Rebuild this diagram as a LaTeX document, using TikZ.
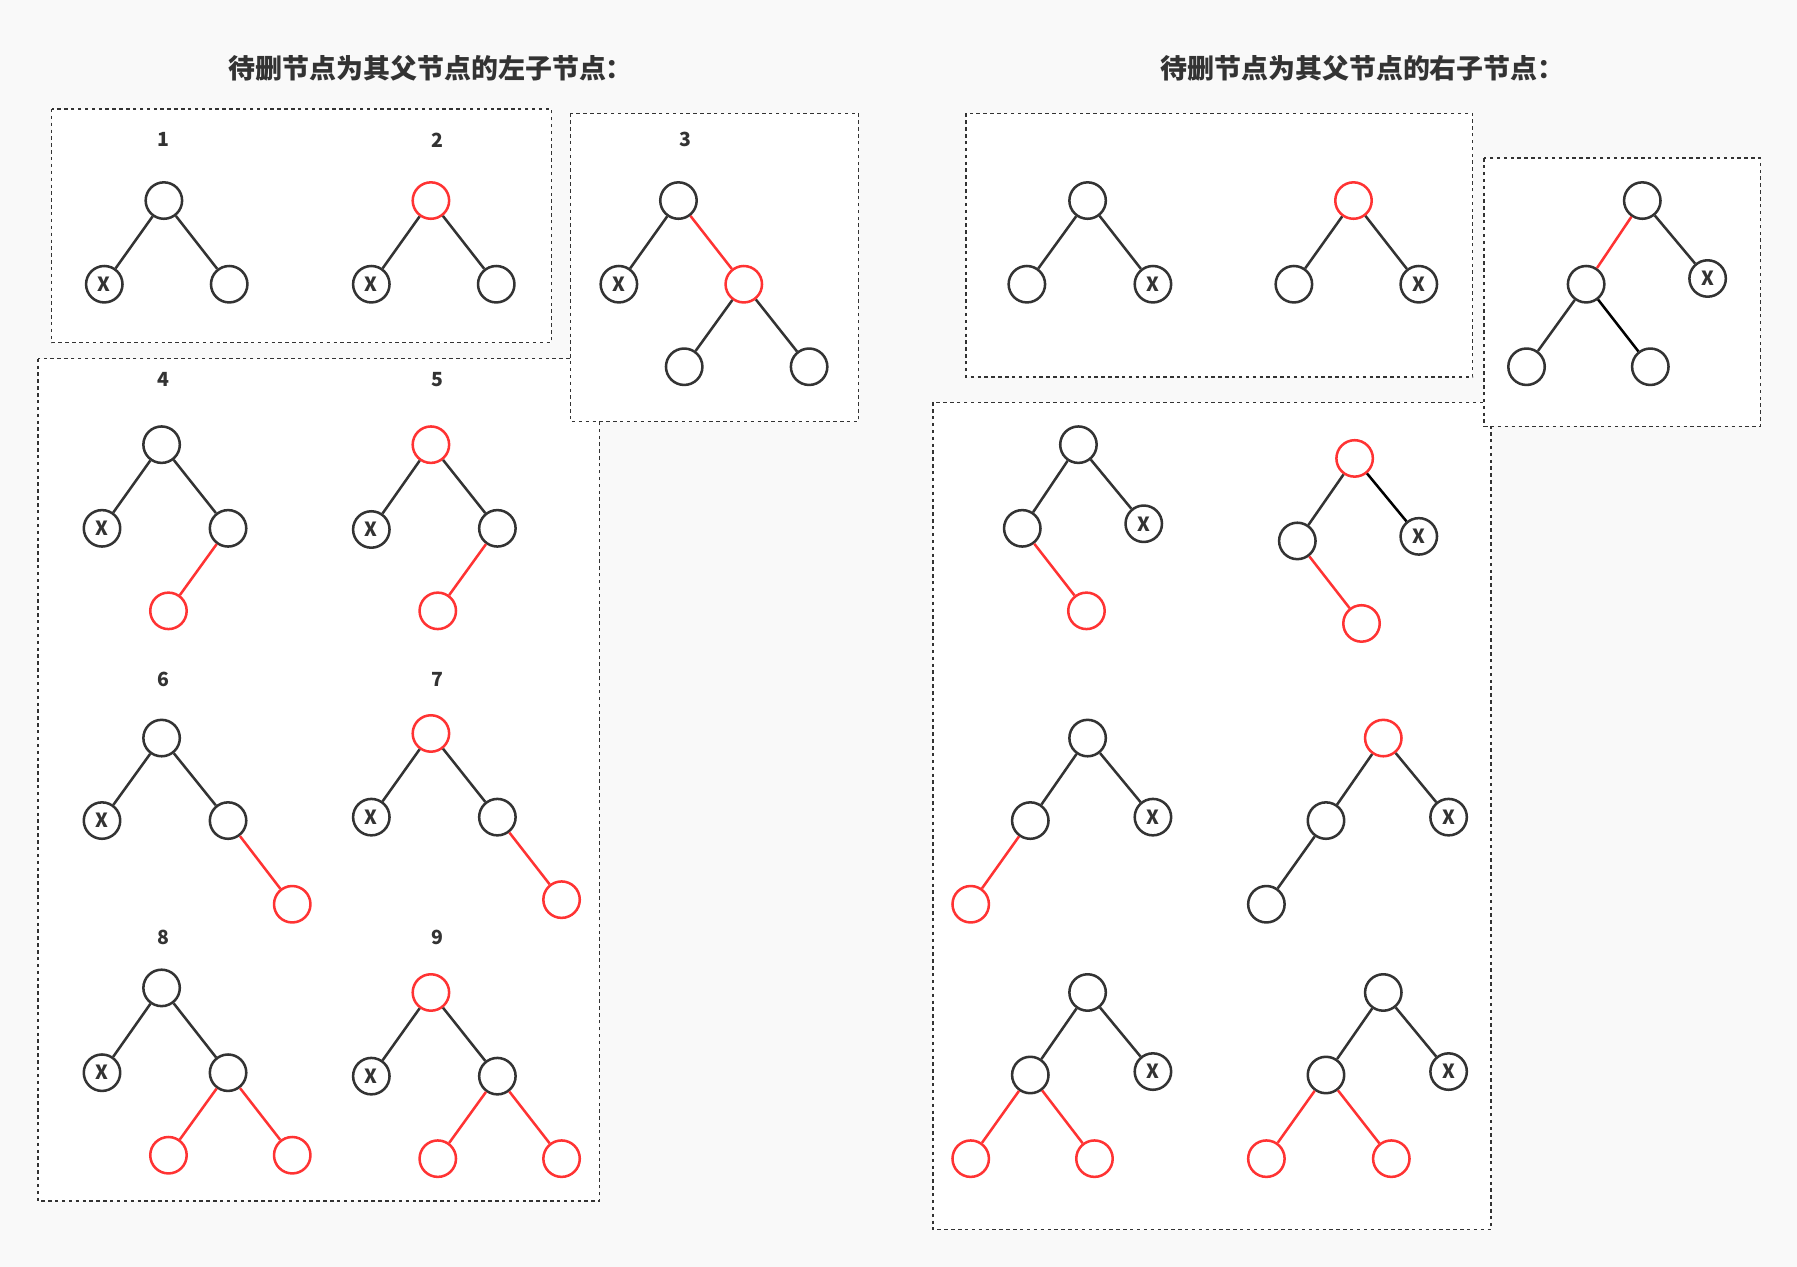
\documentclass[tikz,border=0pt]{standalone}
\usepackage{fontspec}
\usepackage{xcolor}
\usepackage{tikz}
\usetikzlibrary{positioning}
\newfontfamily\cjk{Noto Sans CJK SC}
\definecolor{nodegray}{HTML}{333333}
\definecolor{nodered}{HTML}{FF3333}
\definecolor{pagebg}{HTML}{F9F9F9}

\begin{document}
\begin{tikzpicture}[x=1pt, y=-1pt,
    nd/.style={circle, draw=nodegray, line width=2.2pt, minimum size=31.8pt, inner sep=0pt, fill=white},
    rnd/.style={nd, draw=nodered},
    xnd/.style={nd, font=\cjk\bfseries\fontsize{17}{17}\selectfont, text=nodegray},
    edge/.style={draw=nodegray, line width=2.2pt},
    redge/.style={draw=nodered, line width=2.2pt},
    kedge/.style={draw=black, line width=2.2pt},
    box/.style={draw=nodegray, fill=white, line width=1.3pt, dash pattern=on 3pt off 3pt},
    num/.style={font=\cjk\bfseries\fontsize{17}{17}\selectfont, text=nodegray},
    title/.style={font=\cjk\bfseries\fontsize{23.5}{23.5}\selectfont, text=nodegray}]

    % Background
    \fill[pagebg] (0,0) rectangle (1568,1105.5);
    \useasboundingbox (0,0) rectangle (1568,1105.5);

    % Titles
    \node[title] (ltitle) at (376,60) {待删节点为其父节点的左子节点：};
    \node[title] (rtitle) at (1189,60) {待删节点为其父节点的右子节点：};

    % Dashed boxes
    \draw[box] (33,313) rectangle (523,1048);
    \draw[box] (45,95) rectangle (481,299);
    \draw[box] (498,99) rectangle (749,368);
    \draw[box] (814,351) rectangle (1301,1073);
    \draw[box] (843,99) rectangle (1285,329);
    \draw[box] (1295,138) rectangle (1536,372);

    % Case numbers
    \node[num] (n1) at (143,122) {1};
    \node[num] (n2) at (382,122) {2};
    \node[num] (n3) at (598,122) {3};
    \node[num] (n4) at (143,331) {4};
    \node[num] (n5) at (382,331) {5};
    \node[num] (n6) at (143,593) {6};
    \node[num] (n7) at (382,593) {7};
    \node[num] (n8) at (143,818) {8};
    \node[num] (n9) at (382,818) {9};

    % Left 1
    \node[nd] (l1r) at (143,175) {};
    \node[xnd] (l1a) at (91,248) {X};
    \node[nd] (l1b) at (200,248) {};
    \draw[edge] (l1r) -- (l1a);
    \draw[edge] (l1r) -- (l1b);

    % Left 2
    \node[rnd] (l2r) at (376,175) {};
    \node[xnd] (l2a) at (324,248) {X};
    \node[nd] (l2b) at (433,248) {};
    \draw[edge] (l2r) -- (l2a);
    \draw[edge] (l2r) -- (l2b);

    % Left 3
    \node[nd] (l3r) at (592,175) {};
    \node[xnd] (l3a) at (540,248) {X};
    \node[rnd] (l3b) at (649,248) {};
    \node[nd] (l3c) at (597,320) {};
    \node[nd] (l3d) at (706,320) {};
    \draw[edge] (l3r) -- (l3a);
    \draw[redge] (l3r) -- (l3b);
    \draw[edge] (l3b) -- (l3c);
    \draw[edge] (l3b) -- (l3d);

    % Left 4
    \node[nd] (l4r) at (141,388) {};
    \node[xnd] (l4a) at (89,461) {X};
    \node[nd] (l4b) at (199,461) {};
    \node[rnd] (l4c) at (147,533) {};
    \draw[edge] (l4r) -- (l4a);
    \draw[edge] (l4r) -- (l4b);
    \draw[redge] (l4b) -- (l4c);

    % Left 5
    \node[rnd] (l5r) at (376,388) {};
    \node[xnd] (l5a) at (324,462) {X};
    \node[nd] (l5b) at (434,461) {};
    \node[rnd] (l5c) at (382,533) {};
    \draw[edge] (l5r) -- (l5a);
    \draw[edge] (l5r) -- (l5b);
    \draw[redge] (l5b) -- (l5c);

    % Left 6
    \node[nd] (l6r) at (141,644) {};
    \node[xnd] (l6a) at (89,716) {X};
    \node[nd] (l6b) at (199,716) {};
    \node[rnd] (l6c) at (255,789) {};
    \draw[edge] (l6r) -- (l6a);
    \draw[edge] (l6r) -- (l6b);
    \draw[redge] (l6b) -- (l6c);

    % Left 7
    \node[rnd] (l7r) at (376,640) {};
    \node[xnd] (l7a) at (324,713) {X};
    \node[nd] (l7b) at (434,713) {};
    \node[rnd] (l7c) at (490,785) {};
    \draw[edge] (l7r) -- (l7a);
    \draw[edge] (l7r) -- (l7b);
    \draw[redge] (l7b) -- (l7c);

    % Left 8
    \node[nd] (l8r) at (141,862) {};
    \node[xnd] (l8a) at (89,936) {X};
    \node[nd] (l8b) at (199,936) {};
    \node[rnd] (l8c) at (147,1008) {};
    \node[rnd] (l8d) at (255,1008) {};
    \draw[edge] (l8r) -- (l8a);
    \draw[edge] (l8r) -- (l8b);
    \draw[redge] (l8b) -- (l8c);
    \draw[redge] (l8b) -- (l8d);

    % Left 9
    \node[rnd] (l9r) at (376,866) {};
    \node[xnd] (l9a) at (324,939) {X};
    \node[nd] (l9b) at (434,939) {};
    \node[rnd] (l9c) at (382,1011) {};
    \node[rnd] (l9d) at (490,1011) {};
    \draw[edge] (l9r) -- (l9a);
    \draw[edge] (l9r) -- (l9b);
    \draw[redge] (l9b) -- (l9c);
    \draw[redge] (l9b) -- (l9d);

    % Right 1
    \node[nd] (r1r) at (949,175) {};
    \node[nd] (r1a) at (896,248) {};
    \node[xnd] (r1b) at (1006,248) {X};
    \draw[edge] (r1r) -- (r1a);
    \draw[edge] (r1r) -- (r1b);

    % Right 2
    \node[rnd] (r2r) at (1181,175) {};
    \node[nd] (r2a) at (1129,248) {};
    \node[xnd] (r2b) at (1238,248) {X};
    \draw[edge] (r2r) -- (r2a);
    \draw[edge] (r2r) -- (r2b);

    % Right 3
    \node[nd] (r3r) at (1433,175) {};
    \node[nd] (r3a) at (1384,248) {};
    \node[xnd] (r3b) at (1490,243) {X};
    \node[nd] (r3c) at (1332,320) {};
    \node[nd] (r3d) at (1440,320) {};
    \draw[redge] (r3r) -- (r3a);
    \draw[edge] (r3r) -- (r3b);
    \draw[edge] (r3a) -- (r3c);
    \draw[kedge] (r3a) -- (r3d);

    % Right 4
    \node[nd] (r4r) at (941,388) {};
    \node[nd] (r4a) at (892,461) {};
    \node[xnd] (r4b) at (998,457) {X};
    \node[rnd] (r4c) at (948,533) {};
    \draw[edge] (r4r) -- (r4a);
    \draw[edge] (r4r) -- (r4b);
    \draw[redge] (r4a) -- (r4c);

    % Right 5
    \node[rnd] (r5r) at (1182,400) {};
    \node[nd] (r5a) at (1132,472) {};
    \node[xnd] (r5b) at (1238,468) {X};
    \node[rnd] (r5c) at (1188,544) {};
    \draw[edge] (r5r) -- (r5a);
    \draw[kedge] (r5r) -- (r5b);
    \draw[redge] (r5a) -- (r5c);

    % Right 6
    \node[nd] (r6r) at (949,644) {};
    \node[nd] (r6a) at (899,716) {};
    \node[xnd] (r6b) at (1006,713) {X};
    \node[rnd] (r6c) at (847,789) {};
    \draw[edge] (r6r) -- (r6a);
    \draw[edge] (r6r) -- (r6b);
    \draw[redge] (r6a) -- (r6c);

    % Right 7
    \node[rnd] (r7r) at (1207,644) {};
    \node[nd] (r7a) at (1157,716) {};
    \node[xnd] (r7b) at (1264,713) {X};
    \node[nd] (r7c) at (1105,789) {};
    \draw[edge] (r7r) -- (r7a);
    \draw[edge] (r7r) -- (r7b);
    \draw[edge] (r7a) -- (r7c);

    % Right 8
    \node[nd] (r8r) at (949,866) {};
    \node[nd] (r8a) at (899,938) {};
    \node[xnd] (r8b) at (1006,935) {X};
    \node[rnd] (r8c) at (847,1011) {};
    \node[rnd] (r8d) at (955,1011) {};
    \draw[edge] (r8r) -- (r8a);
    \draw[edge] (r8r) -- (r8b);
    \draw[redge] (r8a) -- (r8c);
    \draw[redge] (r8a) -- (r8d);

    % Right 9
    \node[nd] (r9r) at (1207,866) {};
    \node[nd] (r9a) at (1157,938) {};
    \node[xnd] (r9b) at (1264,935) {X};
    \node[rnd] (r9c) at (1105,1011) {};
    \node[rnd] (r9d) at (1214,1011) {};
    \draw[edge] (r9r) -- (r9a);
    \draw[edge] (r9r) -- (r9b);
    \draw[redge] (r9a) -- (r9c);
    \draw[redge] (r9a) -- (r9d);
\end{tikzpicture}
\end{document}
